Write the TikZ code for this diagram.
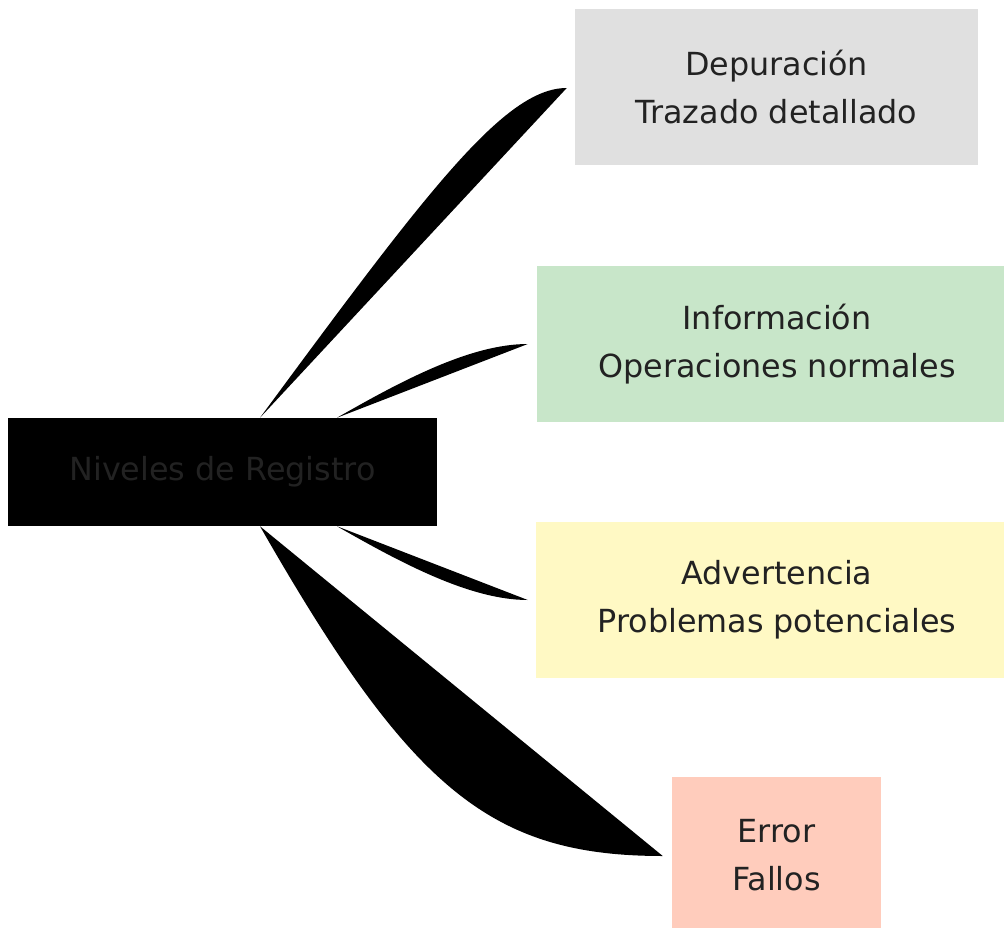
\documentclass[tikz,border=0pt]{standalone}
\usepackage{fontspec}
\setmainfont{DejaVu Sans}
\usetikzlibrary{calc}
\definecolor{txt}{HTML}{222222}
\definecolor{cdep}{HTML}{E0E0E0}
\definecolor{cinfo}{HTML}{C8E6C9}
\definecolor{cwarn}{HTML}{FFF9C4}
\definecolor{cerr}{HTML}{FFCCBC}
\tikzset{
  leaf/.style={inner sep=0pt, align=center, text=txt,
    font=\fontsize{23.85}{36}\selectfont, minimum height=156*0.75pt},
  rootbox/.style={inner sep=0pt, align=center, text=txt, fill=black,
    font=\fontsize{23.85}{36}\selectfont, minimum width=429*0.75pt, minimum height=108*0.75pt},
  edgefill/.style={fill=black, draw=none}
}
\begin{document}
\begin{tikzpicture}[x=0.75pt,y=-0.75pt]
\useasboundingbox (0,0) rectangle (1004,928);
\node[rootbox] (root) at (222.5,472) {Niveles de Registro};
\node[leaf, fill=cdep, minimum width=403*0.75pt] (dep) at (776.5,87) {Depuración\\Trazado detallado};
\node[leaf, fill=cinfo, minimum width=480*0.75pt] (info) at (777,344) {Información\\Operaciones normales};
\node[leaf, fill=cwarn, minimum width=482*0.75pt] (warn) at (777,600) {Advertencia\\Problemas potenciales};
\node[leaf, fill=cerr, minimum width=209*0.75pt] (err) at (776.5,855) {Error\\Fallos};
\coordinate (s1) at ($(root.north)+(37.5,0)$);
\coordinate (s2) at ($(root.north)+(114.5,0)$);
\coordinate (s3) at ($(root.south)+(114.5,0)$);
\coordinate (s4) at ($(root.south)+(37.5,0)$);
\coordinate (e1) at ($(dep.west)+(-8,1)$);
\coordinate (e2) at ($(info.west)+(-9,0)$);
\coordinate (e3) at ($(warn.west)+(-8,0)$);
\coordinate (e4) at ($(err.west)+(-9,1)$);
\fill[edgefill] (s1) .. controls ($(s1)+(168,-228)$) and ($(e1)+(-62,0)$) .. (e1) -- cycle;
\fill[edgefill] (s2) .. controls ($(s2)+(63,-36)$) and ($(e2)+(-58,0)$) .. (e2) -- cycle;
\fill[edgefill] (s3) .. controls ($(s3)+(63,36)$) and ($(e3)+(-58,0)$) .. (e3) -- cycle;
\fill[edgefill] (s4) .. controls ($(s4)+(150,262)$) and ($(e4)+(-173,0)$) .. (e4) -- cycle;
\end{tikzpicture}
\end{document}
